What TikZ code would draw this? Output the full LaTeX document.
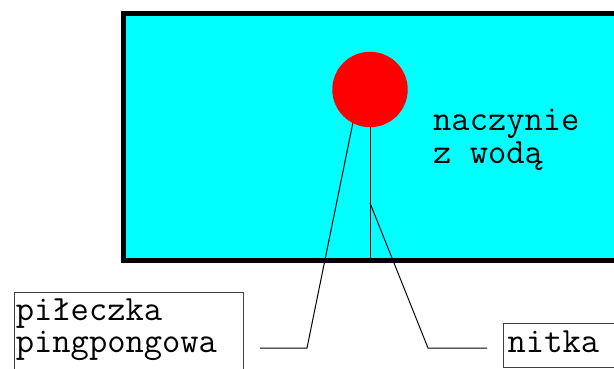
\documentclass[tikz,border=0pt]{standalone}
\usepackage{fontspec}
\definecolor{water}{RGB}{0,255,255}
\definecolor{ballred}{RGB}{255,0,0}
\begin{document}
\begin{tikzpicture}[x=1pt,y=-1pt,
  vessel/.style={draw=black, line width=5pt, fill=water, inner sep=0pt, outer sep=0pt,
    minimum width=493pt, minimum height=247pt, anchor=north west},
  ball/.style={circle, fill=ballred, draw=none, minimum size=75.4pt, inner sep=0pt},
  labelbox/.style={draw=black!75, line width=0.8pt, inner xsep=1.5pt, inner ysep=0pt,
    anchor=north west, font=\ttfamily\fontsize{35.5}{32}\selectfont, align=left},
  plaintext/.style={inner sep=0pt, anchor=north west, font=\ttfamily\fontsize{35.5}{33}\selectfont, align=left},
  leader/.style={draw=black, line width=1pt},
  thread/.style={draw=black, line width=1pt}]
\useasboundingbox (0,0) rectangle (614,369);
\begin{scope}
\clip (0,0) rectangle (614,369);
\node[vessel] (vessel) at (123.5,13.5) {};
\node[ball] (ball) at (370,89.5) {};
\node[plaintext] (water) at (433,102) {\rule{0pt}{28pt}naczynie\\z wodą};
\node[labelbox, text width=226pt] (pilka) at (14,292)
  {\rule{0pt}{28pt}piłeczka\\pingpongowa\rule[-25pt]{0pt}{25pt}};
\node[labelbox, minimum width=140pt] (nitka) at (503,323)
  {\rule[-15pt]{0pt}{44pt}nitka\hspace*{40pt}};
\coordinate (t1) at (370,203);
\coordinate (p1) at (307,348);
\coordinate (p2) at (260,348);
\coordinate (n1) at (428,348);
\coordinate (n2) at (487,348);
\draw[thread] (ball.south) -- (ball.south |- vessel.south);
\draw[leader] (ball.243) -- (p1) -- (p2);
\draw[leader] (t1) -- (n1) -- (n2);
\end{scope}
\end{tikzpicture}
\end{document}
